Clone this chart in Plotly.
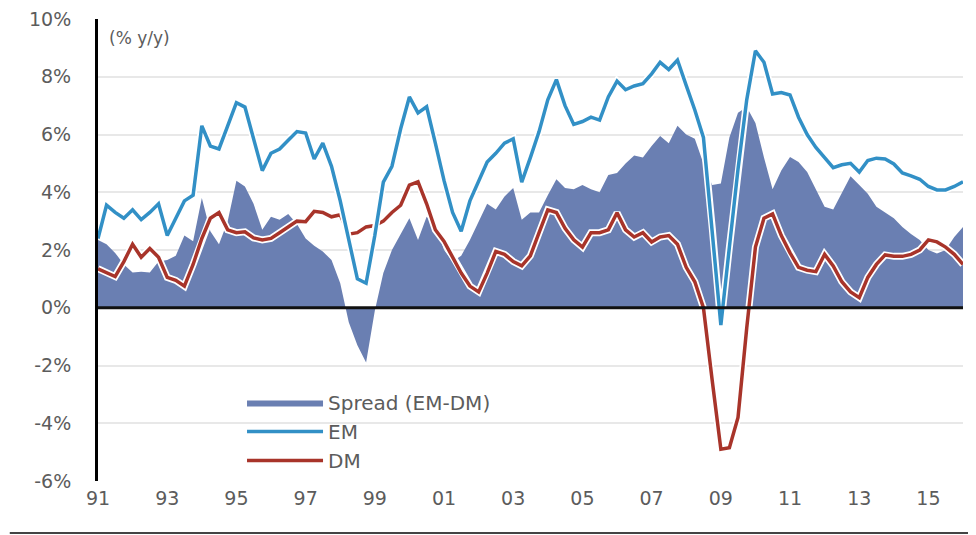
import plotly.graph_objects as go
import pandas as pd

# Quarterly observations, 1991Q1 .. 2016Q1
quarters = pd.date_range("1991-01-01", periods=101, freq="QS")

em = [2.4, 3.55, 3.3, 3.1, 3.39, 3.05, 3.3, 3.6, 2.5, 3.1,
      3.7, 3.9, 6.3, 5.6, 5.5, 6.3, 7.1, 6.95, 5.9, 4.75,
      5.35, 5.5, 5.8, 6.1, 6.05, 5.15, 5.7, 4.9, 3.7, 2.4,
      1.0, 0.85, 2.5, 4.35, 4.9, 6.2, 7.3, 6.75, 6.96, 5.7,
      4.4, 3.3, 2.65, 3.7, 4.4, 5.05, 5.35, 5.7, 5.85, 4.35,
      5.2, 6.1, 7.2, 7.9, 7.0, 6.35, 6.45, 6.6, 6.5, 7.3,
      7.85, 7.55, 7.68, 7.76, 8.1, 8.5, 8.25, 8.58, 7.7, 6.85,
      5.9, 2.8, -0.6, 2.1, 4.8, 7.2, 8.9, 8.5, 7.4, 7.45,
      7.37, 6.6, 6.0, 5.55, 5.2, 4.85, 4.95, 5.0, 4.7, 5.1,
      5.18, 5.15, 4.98, 4.67, 4.57, 4.45, 4.2, 4.08, 4.08, 4.2,
      4.36]

dm = [1.35, 1.2, 1.08, 1.6, 2.2, 1.75, 2.05, 1.75, 1.05, 0.95,
      0.75, 1.5, 2.4, 3.1, 3.3, 2.7, 2.6, 2.63, 2.42, 2.35,
      2.4, 2.6, 2.8, 3.0, 2.98, 3.34, 3.3, 3.15, 3.22, 2.55,
      2.6, 2.8, 2.85, 3.0, 3.3, 3.55, 4.25, 4.36, 3.6, 2.7,
      2.3, 1.75, 1.2, 0.75, 0.55, 1.2, 1.95, 1.85, 1.6, 1.45,
      1.8, 2.6, 3.39, 3.3, 2.75, 2.35, 2.1, 2.6, 2.6, 2.7,
      3.29, 2.7, 2.45, 2.6, 2.28, 2.45, 2.5, 2.2, 1.4, 0.9,
      0.0, -2.5, -4.9, -4.85, -3.8, -0.7, 2.1, 3.1, 3.25, 2.5,
      1.9, 1.4, 1.3, 1.25, 1.85, 1.45, 0.9, 0.55, 0.35, 1.05,
      1.5, 1.83, 1.78, 1.78, 1.85, 2.0, 2.35, 2.28, 2.1, 1.85,
      1.5]

spread = [2.35, 2.2, 1.9, 1.5, 1.22, 1.25, 1.22, 1.6, 1.65, 1.8,
          2.5, 2.3, 3.8, 2.65, 2.2, 3.0, 4.4, 4.2, 3.6, 2.7,
          3.15, 3.05, 3.25, 2.9, 2.4, 2.15, 1.95, 1.65, 0.85, -0.5,
          -1.3, -1.9, -0.1, 1.2, 2.0, 2.55, 3.1, 2.35, 3.15, 2.9,
          2.0, 1.6, 1.8, 2.35, 3.0, 3.6, 3.4, 3.85, 4.15, 3.05,
          3.3, 3.3, 3.9, 4.45, 4.15, 4.1, 4.25, 4.1, 4.0, 4.6,
          4.67, 5.0, 5.27, 5.2, 5.6, 5.95, 5.7, 6.3, 6.0, 5.85,
          5.0, 4.25, 4.3, 5.9, 6.75, 6.95, 6.4, 5.2, 4.1, 4.75,
          5.22, 5.05, 4.7, 4.1, 3.5, 3.4, 4.0, 4.55, 4.25, 3.95,
          3.5, 3.3, 3.1, 2.8, 2.55, 2.35, 2.0, 1.88, 2.0, 2.45,
          2.8]

tick_years = [1991, 1993, 1995, 1997, 1999, 2001, 2003, 2005,
              2007, 2009, 2011, 2013, 2015]
tick_labels = ["91", "93", "95", "97", "99", "01", "03", "05",
               "07", "09", "11", "13", "15"]
y_ticks = [-6, -4, -2, 0, 2, 4, 6, 8, 10]
y_labels = ["-6%", "-4%", "-2%", "0%", "2%", "4%", "6%", "8%", "10%"]

SPREAD_C = "#6a7fb2"
EM_C = "#3290c6"
DM_C = "#a8342a"
TXT_C = "#5c5c5c"
FONT = "DejaVu Sans"

fig = go.Figure()
fig.add_trace(go.Scatter(
    x=quarters, y=spread, name="Spread (EM-DM)", mode="lines",
    fill="tozeroy", fillcolor=SPREAD_C, line=dict(width=0, color=SPREAD_C),
    legendrank=1))

for vals, name, color, rank in [(dm, "DM", DM_C, 3), (em, "EM", EM_C, 2)]:
    fig.add_trace(go.Scatter(
        x=quarters, y=vals, mode="lines", showlegend=False, hoverinfo="skip",
        line=dict(width=7, color="white")))
    fig.add_trace(go.Scatter(
        x=quarters, y=vals, name=name, mode="lines",
        line=dict(width=3.5, color=color), legendrank=rank))

fig.update_layout(
    width=968, height=527,
    margin=dict(l=90, r=13, t=11, b=54),
    paper_bgcolor="white", plot_bgcolor="white",
    font=dict(family=FONT, color=TXT_C),
    showlegend=True,
    legend=dict(
        x=0.1665, y=0.212, xanchor="left", yanchor="top",
        bgcolor="rgba(0,0,0,0)", font=dict(size=20, color=TXT_C),
        itemwidth=76, tracegroupgap=0),
    xaxis=dict(
        type="date", range=["1991-01-01", "2016-01-01"],
        tickvals=[f"{y}-01-01" for y in tick_years], ticktext=tick_labels,
        showgrid=False, showline=False, zeroline=False, ticks="",
        tickfont=dict(size=19, color=TXT_C), ticklabelstandoff=4,
        ticklabeloverflow="allow", automargin=False),
    yaxis=dict(
        range=[-6, 10], tickvals=y_ticks, ticktext=y_labels,
        showgrid=True, gridcolor="#e8e8e8", gridwidth=1.5,
        zeroline=False, showline=True, linecolor="black", linewidth=3,
        ticks="", tickfont=dict(size=19, color=TXT_C), ticklabelstandoff=20,
        ticklabeloverflow="allow", automargin=False),
    shapes=[
        dict(type="line", xref="paper", yref="y", x0=0, x1=1, y0=0, y1=0,
             line=dict(color="#111111", width=3), layer="above"),
        dict(type="line", xref="paper", yref="paper", x0=-0.102, x1=1.02,
             y0=-0.1126, y1=-0.1126, line=dict(color="#444444", width=2)),
    ],
    annotations=[
        dict(text="(% y/y)", xref="paper", yref="paper", x=0.01, y=0.985,
             xanchor="left", yanchor="top", showarrow=False,
             font=dict(size=17, color=TXT_C)),
    ],
)

fig.write_html("out.html")
